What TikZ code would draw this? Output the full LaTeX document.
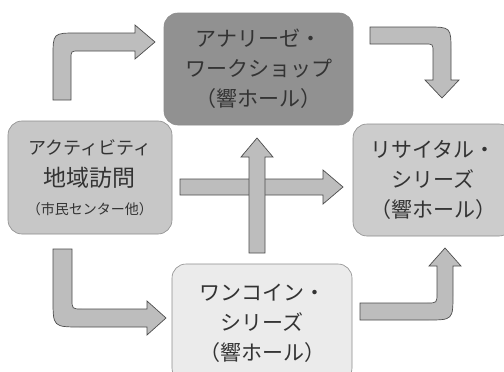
\documentclass[tikz,border=0pt]{standalone}
\usepackage{fontspec}
\setmainfont{Noto Sans CJK JP}

\begin{document}
\begin{tikzpicture}[x=1pt,y=-1pt,
    box/.style={rounded corners=14pt,draw=black!45,line width=0.6pt,align=center,
      text=black!80,font=\fontsize{21}{30}\selectfont},
    blockarrow/.style={draw=black!70,fill=black!26,line width=0.7pt,line join=miter}]
  \useasboundingbox (0,0) rectangle (504,372);
  \clip (0,0) rectangle (504,372);
  \fill[white] (0,0) rectangle (504,372);

  % the four boxes
  \node(analyse)[box,fill=black!43,minimum width=189pt,minimum height=112pt] at (258.5,69) {アナリーゼ・\\ワークショップ\\（響ホール）};
  \node(activity)[box,fill=black!22,minimum width=164pt,minimum height=113pt] at (90,177.5)
    {{\fontsize{18}{22}\selectfont アクティビティ}\\[2pt]{\fontsize{23}{30}\selectfont 地域訪問}\\[-2pt]{\fontsize{14}{24}\selectfont （市民センター他）}};
  \node(recital)[box,fill=black!20,minimum width=160pt,minimum height=112pt] at (433,180) {リサイタル・\\シリーズ\\（響ホール）};
  \node(onecoin)[box,fill=black!8,minimum width=180pt,minimum height=118pt] at (262,323) {ワンコイン・\\シリーズ\\（響ホール）};

  % bent arrows
  \draw[blockarrow] (53,100) -- (53,57) .. controls (53,33) .. (77,33) -- (135,33) -- (135,25) -- (155,42)
    -- (135,59) -- (135,51) -- (79,51) .. controls (71,51) .. (71,59) -- (71,100) -- cycle;
  \draw[blockarrow] (370,27) -- (427,27) .. controls (451,27) .. (451,51) -- (451,80) -- (459,80) -- (442,98)
    -- (425,80) -- (433,80) -- (433,52) .. controls (433,44) .. (425,44) -- (370,44) -- cycle;
  \draw[blockarrow] (53,249) -- (53,299) .. controls (53,327) .. (81,327) -- (147,327) -- (147,335) -- (166,318)
    -- (147,301) -- (147,309) -- (82,309) .. controls (72,309) .. (72,299) -- (72,249) -- cycle;
  \draw[blockarrow] (360,303) -- (427,303) .. controls (437,303) .. (437,293) -- (437,266) -- (429,266) -- (445,248)
    -- (461,266) -- (453,266) -- (453,294) .. controls (453,320) .. (427,320) -- (360,320) -- cycle;

  % crossing arrows
  \draw[blockarrow] (180,179) -- (323,179) -- (323,170) -- (343,187) -- (323,204) -- (323,195) -- (180,195) -- cycle;
  \draw[blockarrow] (249,253) -- (249,157) -- (241,157) -- (257,138) -- (273,157) -- (265,157) -- (265,253) -- cycle;
\end{tikzpicture}
\end{document}
